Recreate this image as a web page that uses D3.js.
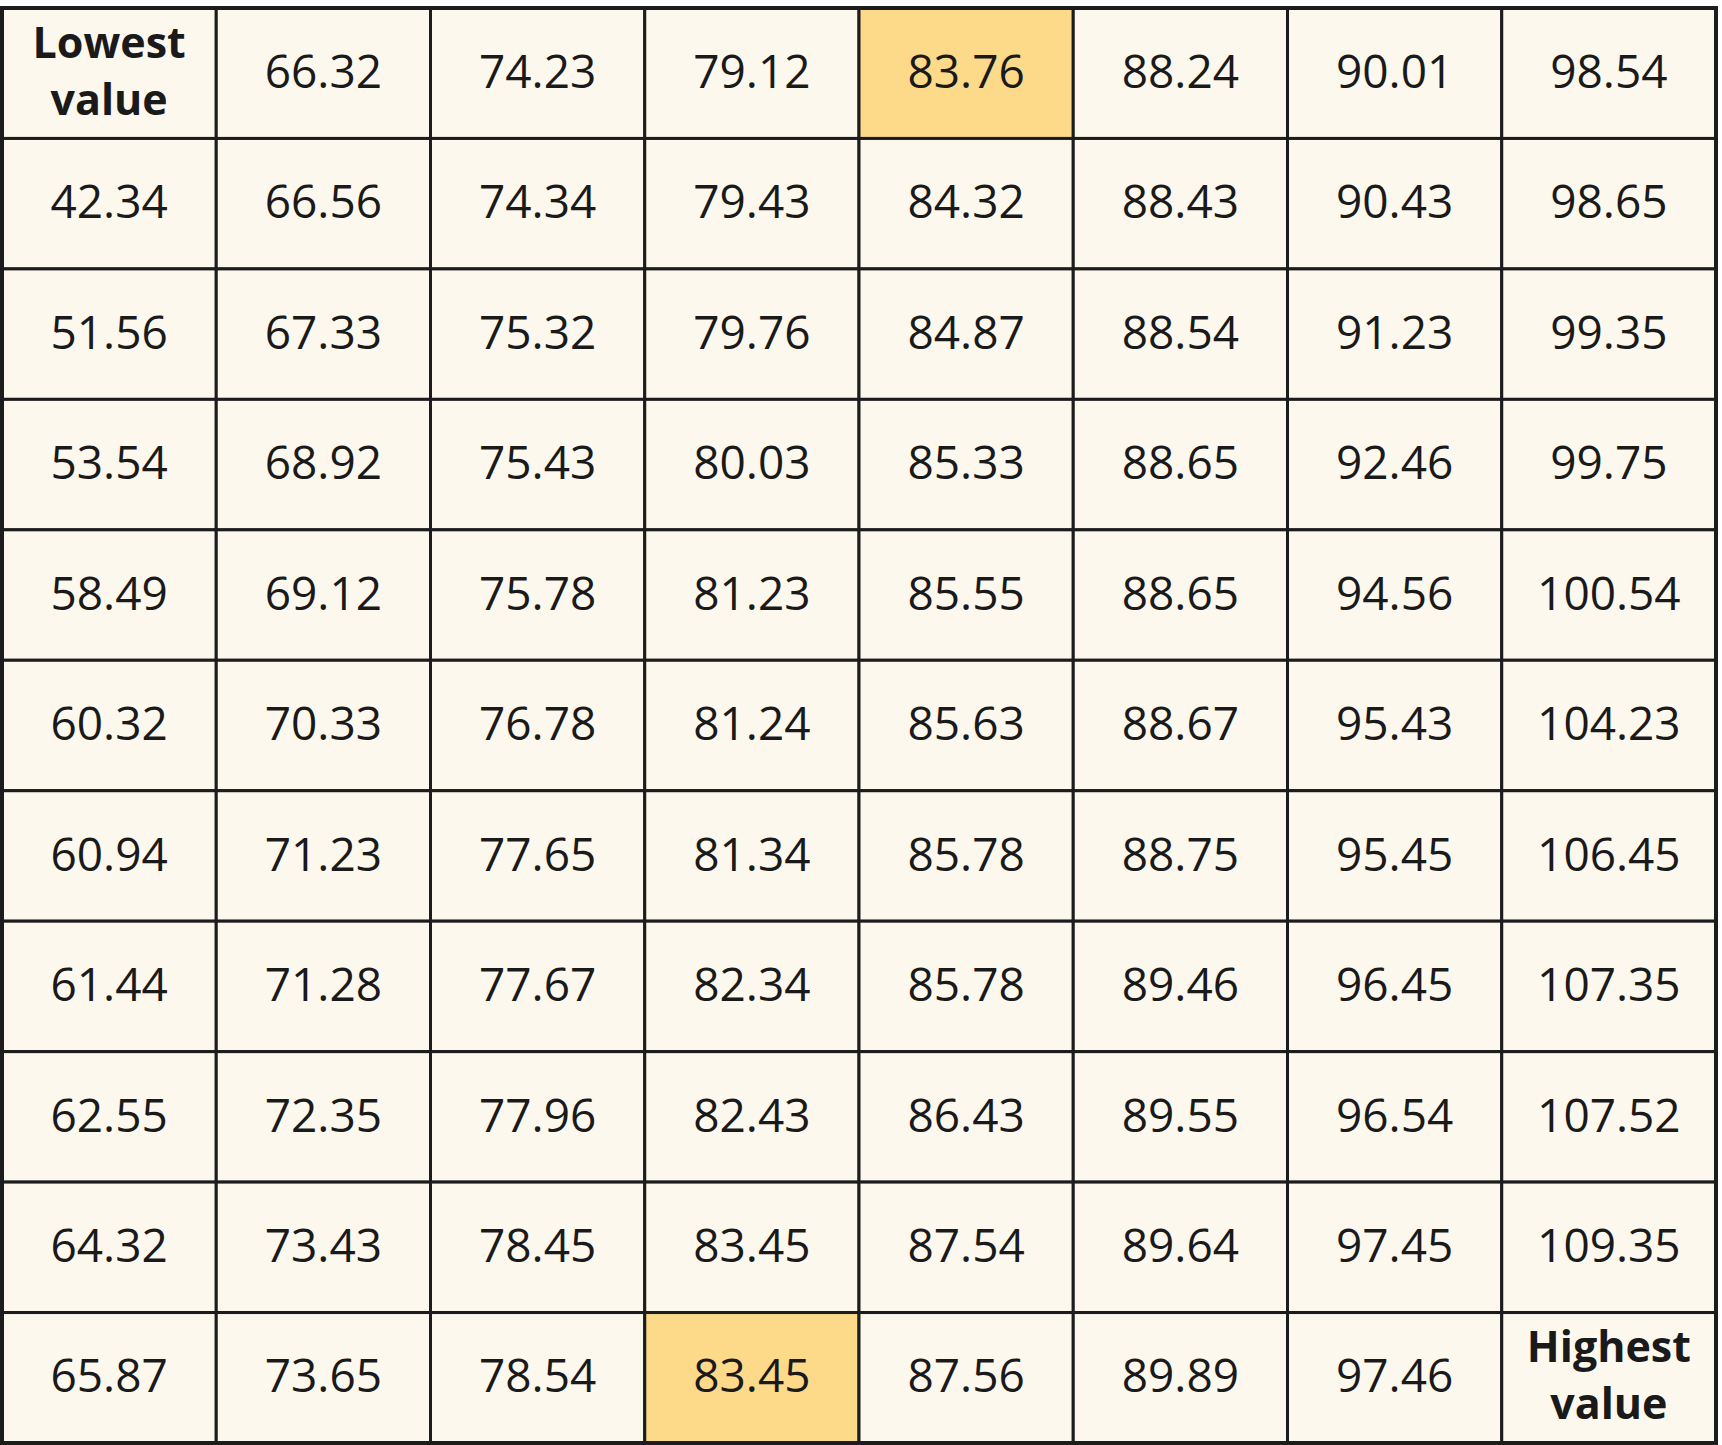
<!DOCTYPE html>
<html>
<head>
<meta charset="utf-8">
<script src="https://cdn.jsdelivr.net/npm/d3@7"></script>
<style>
  html, body { margin: 0; padding: 0; background: #ffffff; }
  svg { display: block; }
</style>
</head>
<body>
<svg id="chart" width="1722" height="1445"></svg>
<script>
// table values, one array per column (read top to bottom)
const col0 = ["Lowest value", 42.34, 51.56, 53.54, 58.49, 60.32, 60.94, 61.44, 62.55, 64.32, 65.87];
const col1 = [66.32, 66.56, 67.33, 68.92, 69.12, 70.33, 71.23, 71.28, 72.35, 73.43, 73.65];
const col2 = [74.23, 74.34, 75.32, 75.43, 75.78, 76.78, 77.65, 77.67, 77.96, 78.45, 78.54];
const col3 = [79.12, 79.43, 79.76, 80.03, 81.23, 81.24, 81.34, 82.34, 82.43, 83.45, 83.45];
const col4 = [83.76, 84.32, 84.87, 85.33, 85.55, 85.63, 85.78, 85.78, 86.43, 87.54, 87.56];
const col5 = [88.24, 88.43, 88.54, 88.65, 88.65, 88.67, 88.75, 89.46, 89.55, 89.64, 89.89];
const col6 = [90.01, 90.43, 91.23, 92.46, 94.56, 95.43, 95.45, 96.45, 96.54, 97.45, 97.46];
const col7 = [98.54, 98.65, 99.35, 99.75, 100.54, 104.23, 106.45, 107.35, 107.52, 109.35, "Highest value"];

const columns = [col0, col1, col2, col3, col4, col5, col6, col7];
// highlighted cells as [column, row]
const highlighted = [[4, 0], [3, 10]];

const svg = d3.select("#chart");
const margin = { left: 2, right: 1716, top: 8, bottom: 1443 };

const x = d3.scaleBand().domain(d3.range(columns.length)).range([margin.left, margin.right]);
const y = d3.scaleBand().domain(d3.range(col0.length)).range([margin.top, margin.bottom]);

const cells = [];
columns.forEach((col, c) => {
  col.forEach((v, r) => {
    cells.push({ c, r, v, hl: highlighted.some(h => h[0] === c && h[1] === r) });
  });
});

const g = svg.selectAll("g.cell")
  .data(cells)
  .enter()
  .append("g")
  .attr("class", "cell")
  .attr("transform", d => `translate(${x(d.c)},${y(d.r)})`);

g.append("rect")
  .attr("width", x.bandwidth())
  .attr("height", y.bandwidth())
  .attr("fill", d => d.hl ? "#fdd98a" : "#fdf8ee")
  .attr("stroke", "#1c1c1c")
  .attr("stroke-width", 3);

// numeric cells
g.filter(d => typeof d.v === "number")
  .append("text")
  .attr("x", x.bandwidth() / 2)
  .attr("y", y.bandwidth() / 2)
  .attr("dy", "0.32em")
  .attr("text-anchor", "middle")
  .style("font-family", "'Open Sans', sans-serif")
  .style("font-size", "46px")
  .style("fill", "#1a1a1a")
  .text(d => d.v.toFixed(2));

// label cells, two lines in bold
g.filter(d => typeof d.v === "string")
  .append("text")
  .attr("text-anchor", "middle")
  .style("font-family", "'Open Sans', sans-serif")
  .style("font-size", "43px")
  .style("font-weight", "bold")
  .style("fill", "#1a1a1a")
  .selectAll("tspan")
  .data(d => d.v.split(" "))
  .enter()
  .append("tspan")
  .attr("x", x.bandwidth() / 2)
  .attr("y", (d, i) => y.bandwidth() / 2 + (i === 0 ? -31 : 26))
  .attr("dy", "0.36em")
  .text(d => d);

// outer frame
svg.append("rect")
  .attr("x", margin.left)
  .attr("y", margin.top)
  .attr("width", margin.right - margin.left)
  .attr("height", margin.bottom - margin.top)
  .attr("fill", "none")
  .attr("stroke", "#1c1c1c")
  .attr("stroke-width", 4);
</script>
</body>
</html>
